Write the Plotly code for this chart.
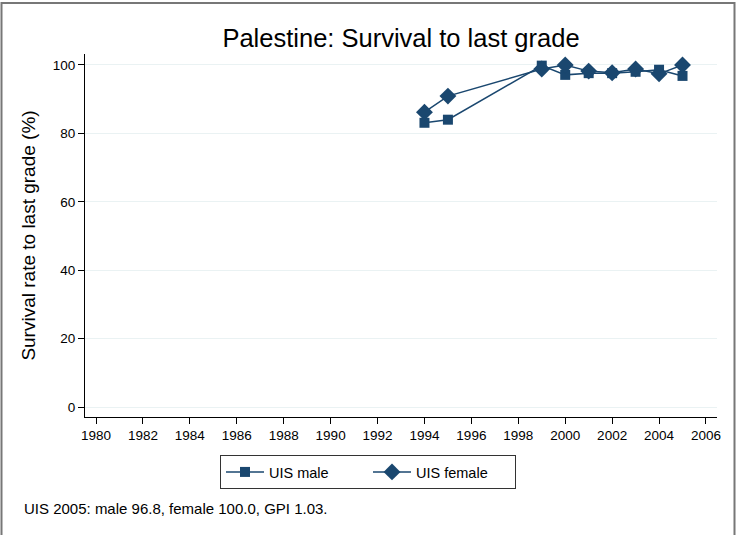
import plotly.graph_objects as go

years_male = [1994, 1995, 1999, 2000, 2001, 2002, 2003, 2004, 2005]
male = [83.1, 84.0, 99.8, 97.1, 97.6, 97.6, 98.0, 98.6, 96.8]
years_female = [1994, 1995, 1999, 2000, 2001, 2002, 2003, 2004, 2005]
female = [86.2, 90.9, 98.8, 100.0, 98.2, 97.7, 98.8, 97.4, 100.0]
x_ticks = list(range(1980, 2007, 2))
y_ticks = [0, 20, 40, 60, 80, 100]

navy = "#1a476f"
W, H = 736, 535
L, R, T, B = 85, 717, 54, 417

def px(x):
    return (x - L) / (R - L)

def py(y):
    return (B - y) / (B - T)

fig = go.Figure()
fig.add_trace(go.Scatter(x=years_male, y=male, mode="lines+markers", name="UIS male",
                         line=dict(color=navy, width=1.5),
                         marker=dict(symbol="square", size=10, color=navy)))
fig.add_trace(go.Scatter(x=years_female, y=female, mode="lines+markers", name="UIS female",
                         line=dict(color=navy, width=1.5),
                         marker=dict(symbol="diamond", size=13, color=navy)))

font = "Liberation Sans, Arial, sans-serif"
fig.update_layout(
    width=W, height=H,
    margin=dict(l=L, r=W - R, t=T, b=H - B),
    paper_bgcolor="white", plot_bgcolor="white",
    font=dict(family=font, size=13, color="#000"),
    title=dict(text="Palestine: Survival to last grade", x=px(401), xref="paper",
               xanchor="center", y=1 - 38 / H, yanchor="middle",
               font=dict(size=25.5, color="#000")),
    xaxis=dict(range=[1979.53, 2006.47], tickvals=x_ticks, ticks="outside", ticklen=6,
               tickcolor="#000", showline=True, linecolor="#000", linewidth=1,
               showgrid=False, zeroline=False, tickfont=dict(size=13.5)),
    yaxis=dict(range=[-2.9, 103.2], tickvals=y_ticks, ticks="outside", ticklen=6,
               tickcolor="#000", showline=True, linecolor="#000", linewidth=1,
               showgrid=True, gridcolor="#eaf2f3", gridwidth=1, zeroline=False,
               title=dict(text="Survival rate to last grade (%)", font=dict(size=19), standoff=12),
               tickfont=dict(size=13.5)),
    showlegend=True,
    legend=dict(orientation="h", xref="container", yref="container", x=0.5, xanchor="center",
                y=1 - 455 / H, yanchor="top", bordercolor="#333", borderwidth=1,
                font=dict(size=14.5), itemwidth=38, entrywidthmode="pixels", entrywidth=94,
                bgcolor="white"),
    annotations=[dict(text="UIS 2005: male 96.8, female 100.0, GPI 1.03.", xref="paper", yref="paper",
                      x=px(22), y=py(508), xanchor="left", yanchor="middle", showarrow=False,
                      font=dict(size=15))],
    shapes=[dict(type="rect", xref="paper", yref="paper", x0=px(1.5), x1=px(734.5),
                 y0=py(545), y1=py(3), line=dict(color="#777", width=2), layer="below")],
)

fig.write_html("out.html", config={"displayModeBar": False},
               post_script="document.body.style.margin='0px';")
